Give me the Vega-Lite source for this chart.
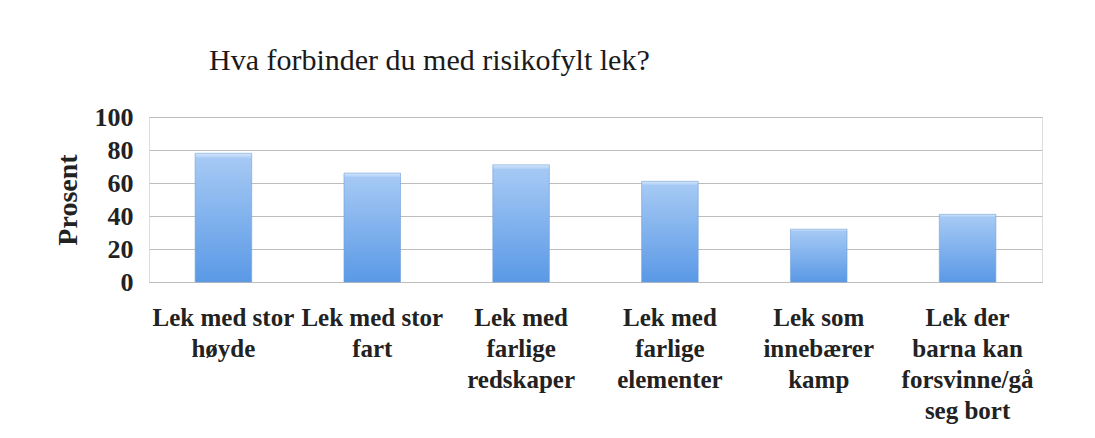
{
  "$schema": "https://vega.github.io/schema/vega-lite/v6.json",
  "autosize": "none",
  "width": 893,
  "height": 165,
  "padding": {"left": 149, "top": 117, "right": 53, "bottom": 156},
  "background": "white",
  "title": {
    "text": "Hva forbinder du med risikofylt lek?",
    "anchor": "start",
    "frame": "group",
    "dx": 60,
    "offset": 28,
    "font": "Liberation Serif",
    "fontSize": 30,
    "fontWeight": "normal",
    "color": "#1a1a1a"
  },
  "data": {
    "values": [
      {"kategori": "Lek med stor høyde", "prosent": 78},
      {"kategori": "Lek med stor fart", "prosent": 66},
      {"kategori": "Lek med farlige redskaper", "prosent": 71},
      {"kategori": "Lek med farlige elementer", "prosent": 61},
      {"kategori": "Lek som innebærer kamp", "prosent": 32},
      {"kategori": "Lek der barna kan forsvinne/gå seg bort", "prosent": 41}
    ]
  },
  "mark": {
    "type": "bar",
    "color": {
      "gradient": "linear",
      "x1": 0, "y1": 0, "x2": 0, "y2": 1,
      "stops": [
        {"offset": 0, "color": "#d8e8fb"},
        {"offset": 0.04, "color": "#a5c9f4"},
        {"offset": 1, "color": "#5a99e6"}
      ]
    },
    "stroke": "#6e9fd8",
    "strokeWidth": 0.6
  },
  "encoding": {
    "x": {
      "field": "kategori",
      "type": "nominal",
      "sort": null,
      "scale": {"paddingInner": 0.62, "paddingOuter": 0.31},
      "axis": {
        "title": null,
        "labelAngle": 0,
        "labelFont": "Liberation Serif",
        "labelFontSize": 25,
        "labelFontWeight": "bold",
        "labelColor": "#222222",
        "labelLineHeight": 31,
        "labelPadding": 23,
        "labelLimit": 200,
        "ticks": false,
        "domainColor": "#bdbdbd",
        "labelExpr": "{'Lek med stor høyde': ['Lek med stor', 'høyde'], 'Lek med stor fart': ['Lek med stor', 'fart'], 'Lek med farlige redskaper': ['Lek med', 'farlige', 'redskaper'], 'Lek med farlige elementer': ['Lek med', 'farlige', 'elementer'], 'Lek som innebærer kamp': ['Lek som', 'innebærer', 'kamp'], 'Lek der barna kan forsvinne/gå seg bort': ['Lek der', 'barna kan', 'forsvinne/gå', 'seg bort']}[datum.label]"
      }
    },
    "y": {
      "field": "prosent",
      "type": "quantitative",
      "scale": {"domain": [0, 100]},
      "axis": {
        "title": "Prosent",
        "values": [0, 20, 40, 60, 80, 100],
        "titleFont": "Liberation Serif",
        "titleFontSize": 28,
        "titleFontWeight": "bold",
        "titleColor": "#222222",
        "titlePadding": 12,
        "labelFont": "Liberation Serif",
        "labelFontSize": 26,
        "labelFontWeight": "bold",
        "labelColor": "#222222",
        "labelPadding": 16,
        "ticks": false,
        "domain": false,
        "gridColor": "#bdbdbd",
        "gridWidth": 1.2
      }
    }
  },
  "config": {
    "view": {"stroke": "#dddddd", "strokeWidth": 1}
  }
}
